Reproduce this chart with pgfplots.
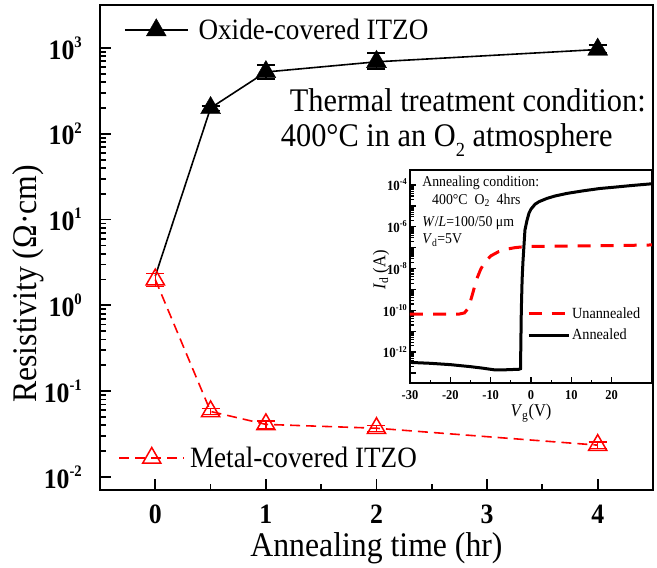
\documentclass[border=0pt]{standalone}
\usepackage{fontspec}
\setmainfont{Liberation Serif}[FakeStretch=0.92]
\usepackage{pgfplots}
\usepackage{pgfplotstable}
\pgfplotsset{compat=1.18}

% powers of ten for the tick labels: #1 exponent, #2 size of the exponent
\newcommand{\dec}[2]{\textbf{10\raisebox{0.42em}{\fontsize{#2}{#2}\selectfont #1}}}

% resistivity vs. annealing time
\pgfplotstableread{
t    rho
0    2.2
0.5  200
1    525
2    690
4    960
}\oxide
\pgfplotstableread{
t    rho   ep   em
0.5  200   12   12
1    525   110  90
2    690   185  120
4    960   130  80
}\oxidemarks
\pgfplotstableread{
t    rho    err
0    2.0    0.35
0.5  0.058  0.005
1    0.041  0.004
2    0.037  0.003
4    0.0235 0.002
}\metal

% transfer curves Id-Vg
\pgfplotstableread{
vg     id
-30    3.2e-13
-25    2.9e-13
-20    2.5e-13
-15    2.0e-13
-12    1.7e-13
-9     1.4e-13
-7     1.4e-13
-5     1.45e-13
-3     1.5e-13
-2.6   1.6e-13
-2.4   1e-10
-2.2   3e-9
-2.0   2e-8
-1.5   7e-7
-1.0   2e-6
-0.5   4.5e-6
0      7e-6
1      1.2e-5
2      1.6e-5
4      2.3e-5
6      3.0e-5
9      4.0e-5
13     5.3e-5
17     6.8e-5
21     8.0e-5
25     9.5e-5
30     1.15e-4
}\annealed
\pgfplotstableread{
vg     id
-30    6.5e-11
-18    6.5e-11
-16.5  7.5e-11
-15.5  1.3e-10
-14.5  6e-10
-13.5  3e-9
-12.5  9e-9
-11.5  2e-8
-10    4e-8
-8     6.5e-8
-6     8.5e-8
-4     1.0e-7
-2     1.1e-7
0      1.15e-7
10     1.2e-7
20     1.25e-7
30     1.35e-7
}\unannealed

\begin{document}
\begin{tikzpicture}
\useasboundingbox (-100pt,-78pt) rectangle (557pt,490pt);

% main axis with the oxide-covered series
\begin{axis}[
  at={(0pt,0pt)}, anchor=south west,
  scale only axis, width=553pt, height=485pt,
  xmin=-0.5, xmax=4.5,
  ymode=log, ymin=7.05e-3, ymax=3.17e3,
  clip=false,
  axis line style={line width=2.4pt},
  tick style={line width=1.8pt, black},
  major tick length=11pt, minor tick length=6pt,
  tick pos=left, tick align=inside,
  xtick={0,1,2,3,4}, xticklabels={0,1,2,3,4},
  minor x tick num=1,
  ytick={1e-2,1e-1,1,10,100,1000},
  yticklabels={\dec{-2}{16},\dec{-1}{16},\dec{0}{16},\dec{1}{16},\dec{2}{16},\dec{3}{16}},
  xticklabel style={font=\fontsize{28}{28}\selectfont\bfseries, inner sep=0pt, yshift=-15pt},
  yticklabel style={font=\fontsize{28}{28}\selectfont, inner sep=0pt, xshift=-18pt},
  xlabel={Annealing time (hr)},
  ylabel={Resistivity (Ω·cm)},
  xlabel style={font=\fontsize{34.5}{36}\selectfont, at={(axis description cs:0.5,-0.1196)}, anchor=center},
  ylabel style={font=\fontsize{34.5}{36}\selectfont, at={(axis description cs:-0.1302,0.425)}, anchor=center},
  legend style={draw=none, fill=none, inner sep=0pt,
    at={(axis description cs:0.043,0.948)}, anchor=west,
    font=\fontsize{29.5}{32}\selectfont,
    nodes={inner sep=3pt}, column sep=7pt},
  legend cell align=left,
  legend image code/.code={
    \draw[black, line width=1.6pt] (0pt,0pt) -- (63pt,0pt);
    \draw[#1] plot coordinates {(31.5pt,0pt)};},
]
\addplot[black, line width=1.6pt, forget plot] table[x=t, y=rho] {\oxide};
\addplot[black, only marks, mark=triangle*, mark size=11.5pt,
  error bars/.cd, y dir=both, y explicit,
  error mark options={rotate=90, mark size=9pt, line width=1.5pt, black},
  error bar style={line width=1.5pt, black},
  ]
  table[x=t, y=rho, y error plus=ep, y error minus=em] {\oxidemarks};
\addlegendentry{Oxide-covered ITZO}

\node[font=\fontsize{33}{36}\selectfont] at (rel axis cs:0.665,0.804) {Thermal treatment condition:};
\node[font=\fontsize{33}{36}\selectfont] at (rel axis cs:0.627,0.722) {400°C in an O\raisebox{-0.3em}{\fontsize{20}{20}\selectfont 2} atmosphere};
\end{axis}

% metal-covered series on an axis of the same frame
\begin{axis}[
  at={(0pt,0pt)}, anchor=south west,
  scale only axis, width=553pt, height=485pt,
  xmin=-0.5, xmax=4.5,
  ymode=log, ymin=7.05e-3, ymax=3.17e3,
  clip=false,
  hide axis,
  legend style={draw=none, fill=none, inner sep=0pt,
    at={(axis description cs:0.033,0.066)}, anchor=west,
    font=\fontsize{29.5}{32}\selectfont,
    nodes={inner sep=3pt}, column sep=2pt},
  legend cell align=left,
  legend image code/.code={
    \draw[mark repeat=2, mark phase=2, #1] plot coordinates {(0pt,0pt) (32.5pt,0pt) (65pt,0pt)};},
]
\addplot[red, line width=1.6pt, dash pattern=on 10pt off 6pt,
  mark=triangle, mark size=10.5pt, mark options={solid, line width=1.5pt},
  error bars/.cd, y dir=both, y explicit,
  error mark options={rotate=90, mark size=9pt, line width=1.3pt, red, solid},
  error bar style={line width=1.3pt, red, solid},
  ]
  table[x=t, y=rho, y error=err] {\metal};
\addlegendentry{Metal-covered ITZO}
\end{axis}

% inset: transfer characteristics
\begin{axis}[
  at={(310pt,107pt)}, anchor=south west,
  scale only axis, width=242pt, height=213pt,
  xmin=-30, xmax=30,
  ymode=log, ymin=3.3e-14, ymax=5.25e-4,
  axis background/.style={fill=white},
  axis line style={line width=1.8pt},
  tick style={line width=1.2pt, black},
  major tick length=6pt, minor tick length=3.5pt,
  tick pos=left, tick align=inside,
  xtick={-30,-20,-10,0,10,20}, xticklabels={-30,-20,-10,0,10,20},
  minor x tick num=1,
  ytick={1e-13,1e-12,1e-11,1e-10,1e-9,1e-8,1e-7,1e-6,1e-5,1e-4},
  yticklabels={,\dec{-12}{9},,\dec{-10}{9},,\dec{-8}{9},,\dec{-6}{9},,\dec{-4}{9}},
  xticklabel style={font=\fontsize{13.5}{14}\selectfont\bfseries, inner sep=0pt, yshift=-7pt},
  yticklabel style={font=\fontsize{14}{14}\selectfont, inner sep=0pt, xshift=-3pt},
  xlabel={\textit{V}\textsubscript{g}(V)},
  ylabel={\textit{I}\textsubscript{d} (A)},
  xlabel style={font=\fontsize{18}{19}\selectfont, at={(axis description cs:0.5,-0.141)}, anchor=center},
  ylabel style={font=\fontsize{18}{19}\selectfont, at={(axis description cs:-0.12,0.53)}, anchor=center},
  legend style={draw=none, fill=none, inner sep=0pt,
    at={(axis description cs:0.483,0.275)}, anchor=west,
    font=\fontsize{15.5}{16}\selectfont,
    nodes={inner sep=2pt}, row sep=5pt},
  legend cell align=left,
  legend image code/.code={\draw[#1] (0pt,0pt) -- (40pt,0pt);},
]
\addplot[red, line width=3pt, dash pattern=on 13pt off 10pt] table[x=vg, y=id] {\unannealed};
\addlegendentry{Unannealed}
\addplot[black, line width=3pt] table[x=vg, y=id] {\annealed};
\addlegendentry{Annealed}

\node[anchor=west, inner sep=0pt, font=\fontsize{15}{16}\selectfont] at (rel axis cs:0.05,0.939) {Annealing condition:};
\node[anchor=west, inner sep=0pt, font=\fontsize{15}{16}\selectfont] at (rel axis cs:0.091,0.859) {400°C\ \ O\textsubscript{2}\ \ 4hrs};
\node[anchor=west, inner sep=0pt, font=\fontsize{15}{16}\selectfont] at (rel axis cs:0.05,0.751) {\textit{W}/\textit{L}=100/50 μm};
\node[anchor=west, inner sep=0pt, font=\fontsize{15}{16}\selectfont] at (rel axis cs:0.05,0.671) {\textit{V}\textsubscript{d}=5V};
\end{axis}
\end{tikzpicture}
\end{document}
